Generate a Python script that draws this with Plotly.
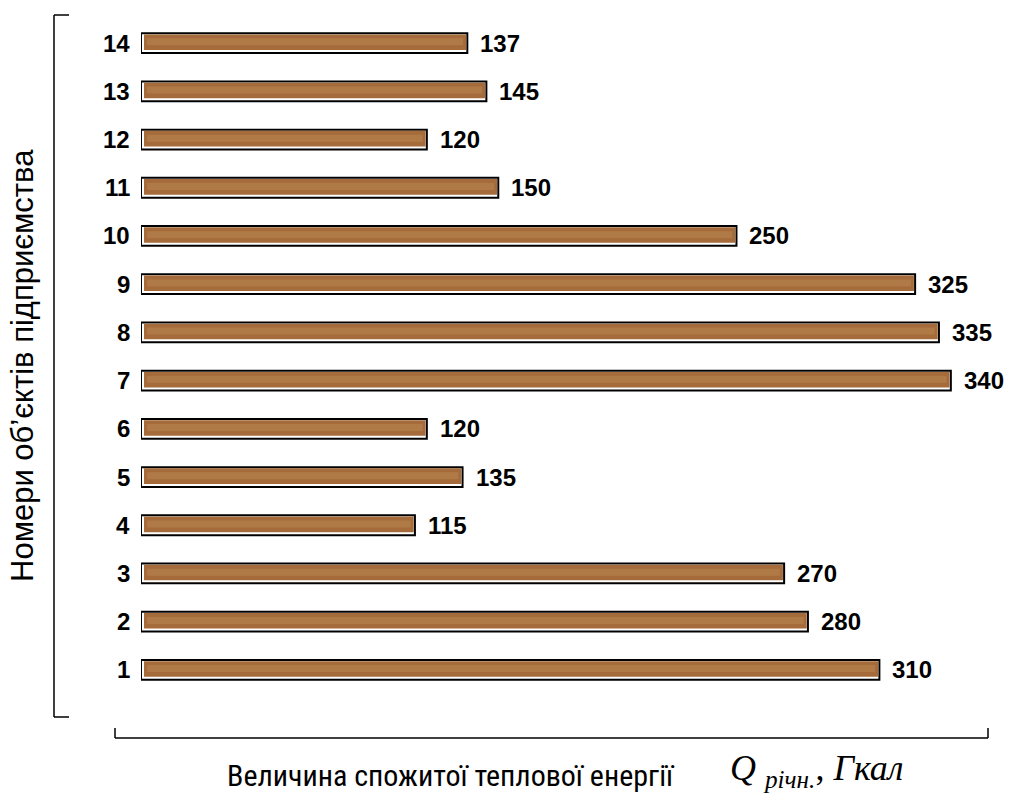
import plotly.graph_objects as go

# Object numbers and annual heat consumption, Gcal
objects = [1, 2, 3, 4, 5, 6, 7, 8, 9, 10, 11, 12, 13, 14]
heat_gcal = [310, 280, 270, 115, 135, 120, 340, 335, 325, 250, 150, 120, 145, 137]

W, H = 1010, 798
ML, MR, MT, MB = 141, 22, 19, 104
PW = W - ML - MR
PH = H - MT - MB
X_MAX = 355.6
BAR_W = 0.41

UX = X_MAX / PW          # data units per pixel, x
UY = 14.0 / PH           # data units per pixel, y


def px(x):
    return (x - ML) / PW


def py(y):
    return (H - MB - y) / PH


fig = go.Figure()
# framed bar: black outline with a white inner rim
fig.add_trace(go.Bar(
    x=heat_gcal, y=objects, orientation="h", width=BAR_W,
    marker=dict(color="#ffffff", line=dict(color="#000000", width=2)),
    hoverinfo="skip",
))
# brown wooden fill, inset from the frame (white rim left and bottom)
inset_l, inset_r = 3 * UX, 1.2 * UX
inset_t, inset_b = 1.2 * UY, 3 * UY
fig.add_trace(go.Bar(
    x=[v - inset_l - inset_r for v in heat_gcal], y=objects, orientation="h",
    base=inset_l,
    width=BAR_W - inset_t - inset_b,
    offset=-BAR_W / 2 + inset_b,
    marker=dict(color="#a56b3a", line=dict(width=0)),
    hoverinfo="skip",
))
# lighter grain band through the middle of each bar
fig.add_trace(go.Bar(
    x=[v - inset_l - inset_r - 6 * UX for v in heat_gcal], y=objects, orientation="h",
    base=inset_l + 3 * UX,
    width=(BAR_W - inset_t - inset_b) * 0.45,
    offset=-BAR_W / 2 + inset_b + (BAR_W - inset_t - inset_b) * 0.3,
    marker=dict(color="#b07a47", line=dict(width=0)),
    hoverinfo="skip",
))

annotations = []
for n, v in zip(objects, heat_gcal):
    annotations.append(dict(
        x=v, y=n, xref="x", yref="y", text=str(v), showarrow=False,
        xanchor="left", yanchor="middle", xshift=11,
        font=dict(family="Liberation Sans, Arial", size=24, color="#000000", weight="bold"),
    ))
    annotations.append(dict(
        x=px(132), y=n, xref="paper", yref="y", text=str(n), showarrow=False,
        xanchor="right", yanchor="middle",
        font=dict(family="Liberation Sans, Arial", size=24, color="#000000", weight="bold"),
    ))

annotations.append(dict(
    x=px(22), y=py(366), xref="paper", yref="paper",
    text="Номери об’єктів підприємства", showarrow=False, textangle=-90,
    xanchor="center", yanchor="middle",
    font=dict(family="Liberation Sans, Arial", size=31, color="#000000"),
))
annotations.append(dict(
    x=px(677), y=py(775), xref="paper", yref="paper",
    text="Величина спожитої теплової енергії", showarrow=False,
    xanchor="right", yanchor="middle",
    font=dict(family="Liberation Sans Narrow, Roboto Condensed, Roboto", size=30, color="#000000"),
))
annotations.append(dict(
    x=px(728), y=py(770), xref="paper", yref="paper",
    text="<i>Q</i> <sub><i>річн.</i></sub>, <i>Гкал</i>", showarrow=False,
    xanchor="left", yanchor="middle",
    font=dict(family="Liberation Serif, DejaVu Serif", size=36, color="#000000"),
))

line = dict(color="#000000", width=1.5)
shapes = [
    # left bracket
    dict(type="line", xref="paper", yref="paper", x0=px(54), x1=px(54), y0=py(15), y1=py(717), line=line),
    dict(type="line", xref="paper", yref="paper", x0=px(54), x1=px(69), y0=py(15), y1=py(15), line=line),
    dict(type="line", xref="paper", yref="paper", x0=px(54), x1=px(69), y0=py(717), y1=py(717), line=line),
    # bottom bracket
    dict(type="line", xref="paper", yref="paper", x0=px(115), x1=px(988), y0=py(738), y1=py(738), line=line),
    dict(type="line", xref="paper", yref="paper", x0=px(115), x1=px(115), y0=py(728), y1=py(738), line=line),
    dict(type="line", xref="paper", yref="paper", x0=px(988), x1=px(988), y0=py(728), y1=py(738), line=line),
]

fig.update_layout(
    width=W, height=H,
    margin=dict(l=ML, r=MR, t=MT, b=MB),
    paper_bgcolor="#ffffff", plot_bgcolor="#ffffff",
    showlegend=False,
    barmode="overlay",
    xaxis=dict(range=[0, X_MAX], visible=False),
    yaxis=dict(range=[0.5, 14.5], visible=False),
    annotations=annotations,
    shapes=shapes,
)

fig.write_html("out.html")
